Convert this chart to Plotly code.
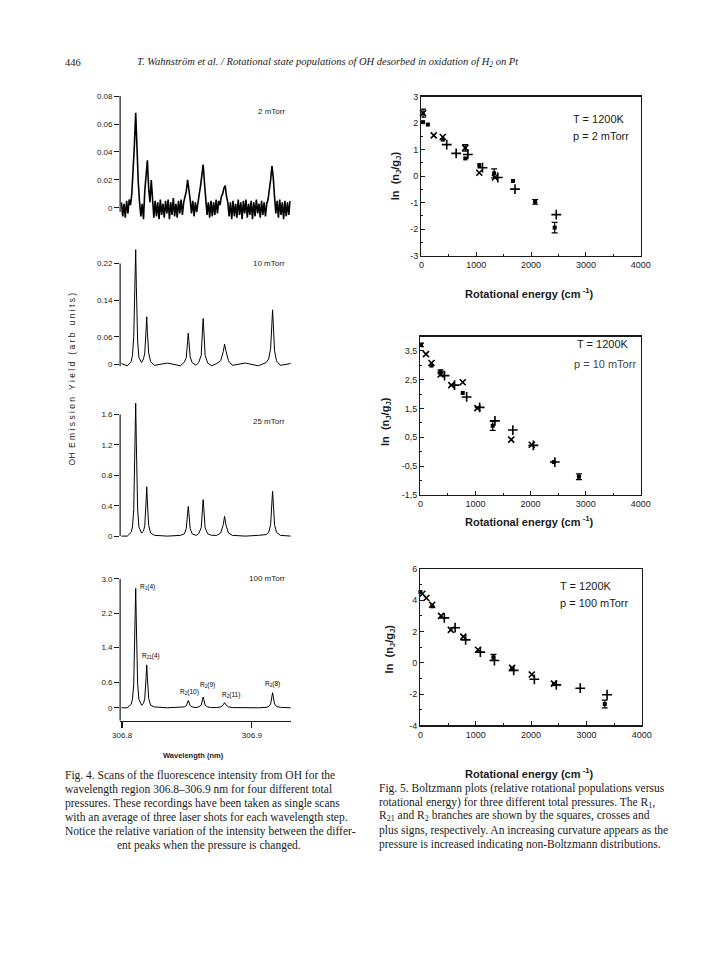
import plotly.graph_objects as go

# ---------------- data: Fig. 4 spectra (wavelength in nm, intensity arb. units) ----------------
SCAN_START = 306.7995
SCAN_STEP = 0.001
I_2MTORR = [
    0.004, -0.006, 0.003, -0.007, 0.005, -0.004, 0.006, 0.002, 0.010, 0.025,
    0.045, 0.068, 0.040, 0.018, 0.004, -0.006, 0.003, -0.008, 0.012, 0.026,
    0.034, 0.014, 0.004, 0.020, 0.006, -0.007, 0.005, -0.006, 0.004, -0.008,
    0.006, -0.005, 0.003, -0.007, 0.005, -0.004, 0.006, -0.008, 0.004, -0.005,
    0.007, -0.006, 0.003, -0.007, 0.005, -0.004, 0.006, -0.005, 0.004, 0.008,
    0.012, 0.020, 0.014, 0.006, -0.004, 0.005, -0.006, 0.004, -0.003, 0.006,
    0.010, 0.016, 0.024, 0.031, 0.018, 0.006, -0.005, 0.004, -0.007, 0.005,
    -0.006, 0.004, -0.005, 0.006, -0.004, 0.005, 0.002, 0.008, 0.010, 0.014,
    0.016, 0.008, 0.004, -0.006, 0.004, -0.008, 0.005, -0.006, 0.003, -0.007,
    0.006, -0.005, 0.004, -0.008, 0.005, -0.004, 0.006, -0.007, 0.003, -0.005,
    0.005, -0.008, 0.004, -0.006, 0.006, -0.004, 0.003, -0.007, 0.005, -0.005,
    0.004, -0.006, 0.003, 0.006, 0.012, 0.020, 0.030, 0.022, 0.008, -0.004,
    0.005, -0.007, 0.006, -0.005, 0.004, -0.008, 0.005, -0.006, 0.004, -0.005,
    0.005,
]
WL_2MTORR = [round(SCAN_START + SCAN_STEP * i, 4) for i in range(len(I_2MTORR))]

WL = [306.7995, 306.8040, 306.8070, 306.8080, 306.8090, 306.8100, 306.8105, 306.8110,
      306.8120, 306.8130, 306.8150, 306.8165, 306.8175, 306.8185, 306.8190, 306.8195,
      306.8205, 306.8220, 306.8250, 306.8350, 306.8450, 306.8480, 306.8495, 306.8505,
      306.8510, 306.8515, 306.8525, 306.8540, 306.8570, 306.8590, 306.8610, 306.8620,
      306.8625, 306.8630, 306.8640, 306.8660, 306.8690, 306.8730, 306.8760, 306.8780,
      306.8790, 306.8800, 306.8820, 306.8850, 306.8950, 306.9050, 306.9110, 306.9130,
      306.9145, 306.9155, 306.9160, 306.9165, 306.9175, 306.9190, 306.9220, 306.9300]
I_10MTORR = [0.002, -0.003, 0.006, 0.02, 0.06, 0.18, 0.25, 0.17, 0.05, 0.015,
             0.004, 0.012, 0.025, 0.075, 0.104, 0.07, 0.025, 0.006, -0.002, 0.003,
             -0.003, 0.005, 0.015, 0.05, 0.068, 0.05, 0.016, 0.004, -0.002, 0.004,
             0.02, 0.075, 0.10, 0.075, 0.02, 0.003, -0.003, 0.002, 0.008, 0.028,
             0.044, 0.03, 0.008, -0.002, 0.003, -0.003, 0.004, 0.012, 0.035, 0.09,
             0.119, 0.09, 0.03, 0.008, -0.002, 0.002]
I_25MTORR = [0.0, 0.0, 0.05, 0.12, 0.35, 1.22, 1.75, 1.22, 0.35, 0.12,
             0.04, 0.065, 0.14, 0.45, 0.65, 0.45, 0.14, 0.04, 0.01, 0.0,
             0.01, 0.03, 0.1, 0.3, 0.39, 0.3, 0.1, 0.03, 0.01, 0.03,
             0.11, 0.36, 0.48, 0.36, 0.11, 0.03, 0.01, 0.01, 0.04, 0.15,
             0.26, 0.15, 0.04, 0.01, 0.0, 0.01, 0.02, 0.05, 0.15, 0.45,
             0.59, 0.45, 0.15, 0.05, 0.01, 0.0]
I_100MTORR = [0.0, 0.0, 0.08, 0.2, 0.55, 1.95, 2.78, 1.95, 0.55, 0.2,
              0.06, 0.1, 0.22, 0.7, 1.0, 0.7, 0.22, 0.06, 0.02, 0.0,
              0.005, 0.02, 0.05, 0.13, 0.17, 0.13, 0.05, 0.02, 0.005, 0.02,
              0.06, 0.19, 0.25, 0.19, 0.06, 0.02, 0.005, 0.005, 0.02, 0.07,
              0.12, 0.07, 0.02, 0.005, 0.0, 0.0, 0.01, 0.03, 0.09, 0.27,
              0.35, 0.27, 0.09, 0.03, 0.01, 0.0]

PRESSURE_LABELS = ["2 mTorr", "10 mTorr", "25 mTorr", "100 mTorr"]
TICKS_2 = [0, 0.02, 0.04, 0.06, 0.08]
TICKTEXT_2 = ["0", "0.02", "0.04", "0.06", "0.08"]
TICKS_10 = [0, 0.06, 0.14, 0.22]
TICKTEXT_10 = ["0", "0.06", "0.14", "0.22"]
TICKS_25 = [0, 0.4, 0.8, 1.2, 1.6]
TICKTEXT_25 = ["0", "0.4", "0.8", "1.2", "1.6"]
TICKS_100 = [0, 0.6, 1.4, 2.2, 3.0]
TICKTEXT_100 = ["0", "0.6", "1.4", "2.2", "3.0"]
WL_TICKS = [306.8, 306.9]
WL_TICKTEXT = ["306.8", "306.9"]
PEAK_LABELS = ["R<sub>1</sub>(4)", "R<sub>21</sub>(4)", "R<sub>2</sub>(10)",
               "R<sub>2</sub>(9)", "R<sub>2</sub>(11)", "R<sub>2</sub>(8)"]

# ---------------- data: Fig. 5 Boltzmann plots (E in cm^-1, ln(nJ/gJ)) ----------------
# 2 mTorr
A_R1_E = [30, 118, 390, 800, 1055, 1327, 1671, 2074, 2430]
A_R1_Y = [2.04, 1.95, 1.38, 0.67, 0.42, 0.11, -0.18, -0.97, -1.94]
A_R1_ERR = [0, 0, 0, 0, 0, 0.17, 0, 0.09, 0.2]
A_R21_E = [30, 225, 390, 800, 1055, 1340]
A_R21_Y = [2.38, 1.54, 1.48, 1.07, 0.13, -0.05]
A_R21_ERR = [0.15, 0, 0, 0.12, 0, 0]
A_R2_E = [462, 634, 847, 1114, 1393, 1707, 2459]
A_R2_Y = [1.19, 0.86, 0.82, 0.32, -0.05, -0.49, -1.45]
A_R2_ERR = [0, 0, 0, 0, 0, 0, 0]
# 10 mTorr
B_R1_E = [12, 200, 366, 768, 1312, 2422, 2877]
B_R1_Y = [3.71, 2.99, 2.77, 2.04, 0.90, -0.36, -0.87]
B_R1_ERR = [0.06, 0, 0.07, 0, 0.16, 0, 0.1]
B_R21_E = [100, 200, 366, 561, 768, 1034, 1648, 2021]
B_R21_Y = [3.39, 3.08, 2.68, 2.31, 2.41, 1.51, 0.42, 0.24]
B_R21_ERR = [0, 0, 0, 0, 0, 0, 0, 0]
B_R2_E = [437, 620, 839, 1075, 1353, 1678, 2050, 2440]
B_R2_Y = [2.64, 2.31, 1.90, 1.54, 1.07, 0.75, 0.22, -0.36]
B_R2_ERR = [0, 0, 0, 0, 0, 0, 0, 0]
# 100 mTorr
C_R1_E = [0, 213, 1320, 1657, 2414, 3331]
C_R1_Y = [4.53, 3.62, 0.36, -0.40, -1.36, -2.63]
C_R1_ERR = [0, 0, 0.18, 0, 0, 0.25]
C_R21_E = [36, 107, 213, 373, 550, 775, 1041, 1657, 2012, 2414]
C_R21_Y = [4.42, 4.15, 3.72, 3.01, 2.11, 1.68, 0.84, -0.32, -0.74, -1.33]
C_R21_ERR = [0, 0, 0, 0, 0, 0, 0, 0, 0, 0]
C_R2_E = [432, 627, 817, 1083, 1337, 1686, 2059, 2456, 2888, 3373]
C_R2_Y = [2.88, 2.25, 1.47, 0.69, 0.15, -0.48, -1.05, -1.41, -1.62, -2.04]
C_R2_ERR = [0, 0, 0, 0, 0, 0, 0, 0, 0, 0]

E_TICKS = [0, 1000, 2000, 3000, 4000]
A_YTICKS = [-3, -2, -1, 0, 1, 2, 3]
B_YTICKS = [-1.5, -0.5, 0.5, 1.5, 2.5, 3.5]
B_YTICKTEXT = ["-1,5", "-0,5", "0,5", "1,5", "2,5", "3,5"]
C_YTICKS = [-4, -2, 0, 2, 4, 6]
PANEL_T = "T = 1200K"
PANEL_P = ["p = 2 mTorr", "p = 10 mTorr", "p = 100 mTorr"]

HEADER_PAGE = "446"
HEADER_TITLE = "T. Wahnström et al. / Rotational state populations of OH desorbed in oxidation of H<sub>2</sub> on Pt"
CAPTION4 = [
    "Fig. 4. Scans of the fluorescence intensity from OH for the",
    "wavelength region 306.8–306.9 nm for four different total",
    "pressures. These recordings have been taken as single scans",
    "with an average of three laser shots for each wavelength step.",
    "Notice the relative variation of the intensity between the differ-",
    "ent peaks when the pressure is changed.",
]
CAPTION5 = [
    "Fig. 5. Boltzmann plots (relative rotational populations versus",
    "rotational energy) for three different total pressures. The R<sub>1</sub>,",
    "R<sub>21</sub> and R<sub>2</sub> branches are shown by the squares, crosses and",
    "plus signs, respectively. An increasing curvature appears as the",
    "pressure is increased indicating non-Boltzmann distributions.",
]

# ---------------- layout helpers ----------------
W, H = 720, 960
INK = "#1a1a1a"
SANS = "Liberation Sans, Arial, sans-serif"
SERIF = "Liberation Serif, Times New Roman, serif"


def px_x(p):
    return p / W


def px_y(p):
    return 1 - p / H


fig = go.Figure()
layout = dict(width=W, height=H, autosize=False, margin=dict(l=0, r=0, t=0, b=0),
              paper_bgcolor="white", plot_bgcolor="white", showlegend=False)
shapes = []
annotations = []


def ann(text, x, y, size, xanchor="left", yanchor="middle", family=SANS, angle=0, color=INK):
    annotations.append(dict(text=text, x=px_x(x), y=px_y(y), xref="paper", yref="paper",
                            xanchor=xanchor, yanchor=yanchor, showarrow=False, textangle=angle,
                            font=dict(family=family, size=size, color=color)))


# ---- Fig. 4 spectra ----
spectra = [
    (WL_2MTORR, I_2MTORR, (222, 92), [-0.012, 0.08], TICKS_2, TICKTEXT_2, (-0.003, 0.08), 108),
    (WL, I_10MTORR, (366, 238), [-0.006, 0.27], TICKS_10, TICKTEXT_10, (-0.004, 0.22), 261),
    (WL, I_25MTORR, (539, 394.7), [-0.03, 1.85], TICKS_25, TICKTEXT_25, (0.0, 1.6), 421),
    (WL, I_100MTORR, (723.2, 580), [-0.3, 3.0], TICKS_100, TICKTEXT_100, (-0.3, 3.0), 580),
]
for k, (wl, inten, (ybot, ytop), yr, tv, tt, (l0, l1), lab_y) in enumerate(spectra, start=1):
    xa = "x" if k == 1 else f"x{k}"
    ya = "y" if k == 1 else f"y{k}"
    fig.add_trace(go.Scatter(x=wl, y=inten, mode="lines", xaxis=xa, yaxis=ya,
                             line=dict(color="black", width=1.0 if k > 1 else 1.6),
                             hoverinfo="skip"))
    xkey = "xaxis" if k == 1 else f"xaxis{k}"
    ykey = "yaxis" if k == 1 else f"yaxis{k}"
    layout[xkey] = dict(domain=[px_x(115), px_x(290)], range=[306.7985, 306.930], anchor=ya,
                        visible=(k == 4), showgrid=False, zeroline=False)
    if k == 4:
        layout[xkey].update(showline=True, linecolor=INK, linewidth=1.3, ticks="outside",
                            ticklen=6, tickwidth=1.3, tickcolor=INK, tickvals=WL_TICKS,
                            ticktext=WL_TICKTEXT, tickfont=dict(family=SANS, size=8, color=INK))
    layout[ykey] = dict(domain=[px_y(ybot), px_y(ytop)], range=yr, anchor=xa, showline=False,
                        showgrid=False, zeroline=False, ticks="outside", ticklen=5, tickwidth=1,
                        tickcolor=INK, tickvals=tv, ticktext=tt,
                        tickfont=dict(family=SANS, size=8, color=INK))
    shapes.append(dict(type="line", xref=f"{xa} domain", yref=ya, x0=0, x1=0, y0=l0, y1=l1,
                       line=dict(color=INK, width=1.2)))
    ann(PRESSURE_LABELS[k - 1], 286, lab_y, 8, xanchor="right")

# peak labels (100 mTorr)
peak_pos = [(133, 588), (135, 658), (174, 694), (195, 687), (217, 697), (262, 686)]
for text, (x, y) in zip(PEAK_LABELS, peak_pos):
    ann(text, x, y, 6.5, color="#000000")

ann("<b>Wavelength (nm)</b>", 190, 758, 7.5, xanchor="center")
ann("OH  E m i s s i o n   Y i e l d   ( a r b   u n i t s )", 66, 378, 8.5, xanchor="center", angle=-90)

# ---- Fig. 5 Boltzmann plots ----
boltz = [
    ((A_R1_E, A_R1_Y, A_R1_ERR), (A_R21_E, A_R21_Y, A_R21_ERR), (A_R2_E, A_R2_Y, A_R2_ERR),
     (424, 649), (253.3, 92.7), [-3, 3], A_YTICKS, [str(v) for v in A_YTICKS], 0.5),
    ((B_R1_E, B_R1_Y, B_R1_ERR), (B_R21_E, B_R21_Y, B_R21_ERR), (B_R2_E, B_R2_Y, B_R2_ERR),
     (423, 649), (495, 335), [-1.5, 4.0], B_YTICKS, B_YTICKTEXT, 0.5),
    ((C_R1_E, C_R1_Y, C_R1_ERR), (C_R21_E, C_R21_Y, C_R21_ERR), (C_R2_E, C_R2_Y, C_R2_ERR),
     (423, 650), (728, 570), [-4, 6], C_YTICKS, [str(v) for v in C_YTICKS], 1),
]
markers = [dict(symbol="square", size=4, color="black"),
           dict(symbol="x-thin", size=6, line=dict(color="black", width=1.6)),
           dict(symbol="cross-thin", size=7, line=dict(color="black", width=1.6))]
for j, (r1, r21, r2, (xl, xr), (yb, yt), yr, ytv, ytt, ymin) in enumerate(boltz):
    k = 5 + j
    xa, ya = f"x{k}", f"y{k}"
    for (es, ys, errs), mk in zip((r1, r21, r2), markers):
        fig.add_trace(go.Scatter(x=es, y=ys, mode="markers", xaxis=xa, yaxis=ya,
                                 marker=mk, hoverinfo="skip", cliponaxis=False))
        ex = [e for e, d in zip(es, errs) if d > 0]
        ey = [v for v, d in zip(ys, errs) if d > 0]
        ed = [d for d in errs if d > 0]
        if ex:
            fig.add_trace(go.Scatter(x=ex, y=ey, mode="markers", xaxis=xa, yaxis=ya,
                                     marker=dict(size=3, color="black"), hoverinfo="skip",
                                     error_y=dict(type="data", array=ed, visible=True,
                                                  color="black", thickness=1.2, width=3)))
    layout[f"xaxis{k}"] = dict(domain=[px_x(xl), px_x(xr)], range=[0, 4000], anchor=ya,
                               showline=True, mirror=True, linecolor=INK, linewidth=1.4,
                               ticks="inside", ticklen=4, tickwidth=1, tickcolor=INK,
                               tickvals=E_TICKS, showgrid=False, zeroline=False,
                               minor=dict(ticks="inside", ticklen=2, dtick=500, tickcolor=INK),
                               tickfont=dict(family=SANS, size=9, color=INK))
    layout[f"yaxis{k}"] = dict(domain=[px_y(yb), px_y(yt)], range=yr, anchor=xa,
                               showline=True, mirror=True, linecolor=INK, linewidth=1.4,
                               ticks="inside", ticklen=4, tickwidth=1, tickcolor=INK,
                               tickvals=ytv, ticktext=ytt, showgrid=False, zeroline=False,
                               minor=dict(ticks="inside", ticklen=2, dtick=ymin, tickcolor=INK),
                               tickfont=dict(family=SANS, size=9, color=INK))

ann(PANEL_T, 577, 115, 11)
ann(PANEL_P[0], 577, 132, 11)
ann(PANEL_T, 582, 343, 11)
ann(PANEL_P[1], 578, 363, 11, color="#444")
ann(PANEL_T, 564, 587, 11)
ann(PANEL_P[2], 564, 604, 11)

for ty in (291, 521, 776):
    ann("<b>Rotational energy (cm<sup> -1</sup>)</b>", 535, ty, 11, xanchor="center")
for (tx, ty) in ((398, 173), (387, 421), (392, 651)):
    ann("<b>ln  (n<sub>J</sub>/g<sub>J</sub>)</b>", tx, ty, 11, xanchor="center", angle=-90)

# ---- header and captions ----
ann(HEADER_PAGE, 56, 58, 10.5, family=SERIF)
ann("<i>" + HEADER_TITLE + "</i>", 130, 58, 10.5, family=SERIF)
for i, line in enumerate(CAPTION4):
    if i == len(CAPTION4) - 1:
        ann(line, 206, 779 + 14 * i, 11.5, xanchor="center", family=SERIF)
    else:
        ann(line, 56, 779 + 14 * i, 11.5, family=SERIF)
for i, line in enumerate(CAPTION5):
    ann(line, 378, 792 + 14 * i, 11.5, family=SERIF)

layout["shapes"] = shapes
layout["annotations"] = annotations
fig.update_layout(**layout)
fig.write_html("out.html", config={"displayModeBar": False, "staticPlot": True},
               post_script="document.body.style.margin='0';document.body.style.padding='0';")
